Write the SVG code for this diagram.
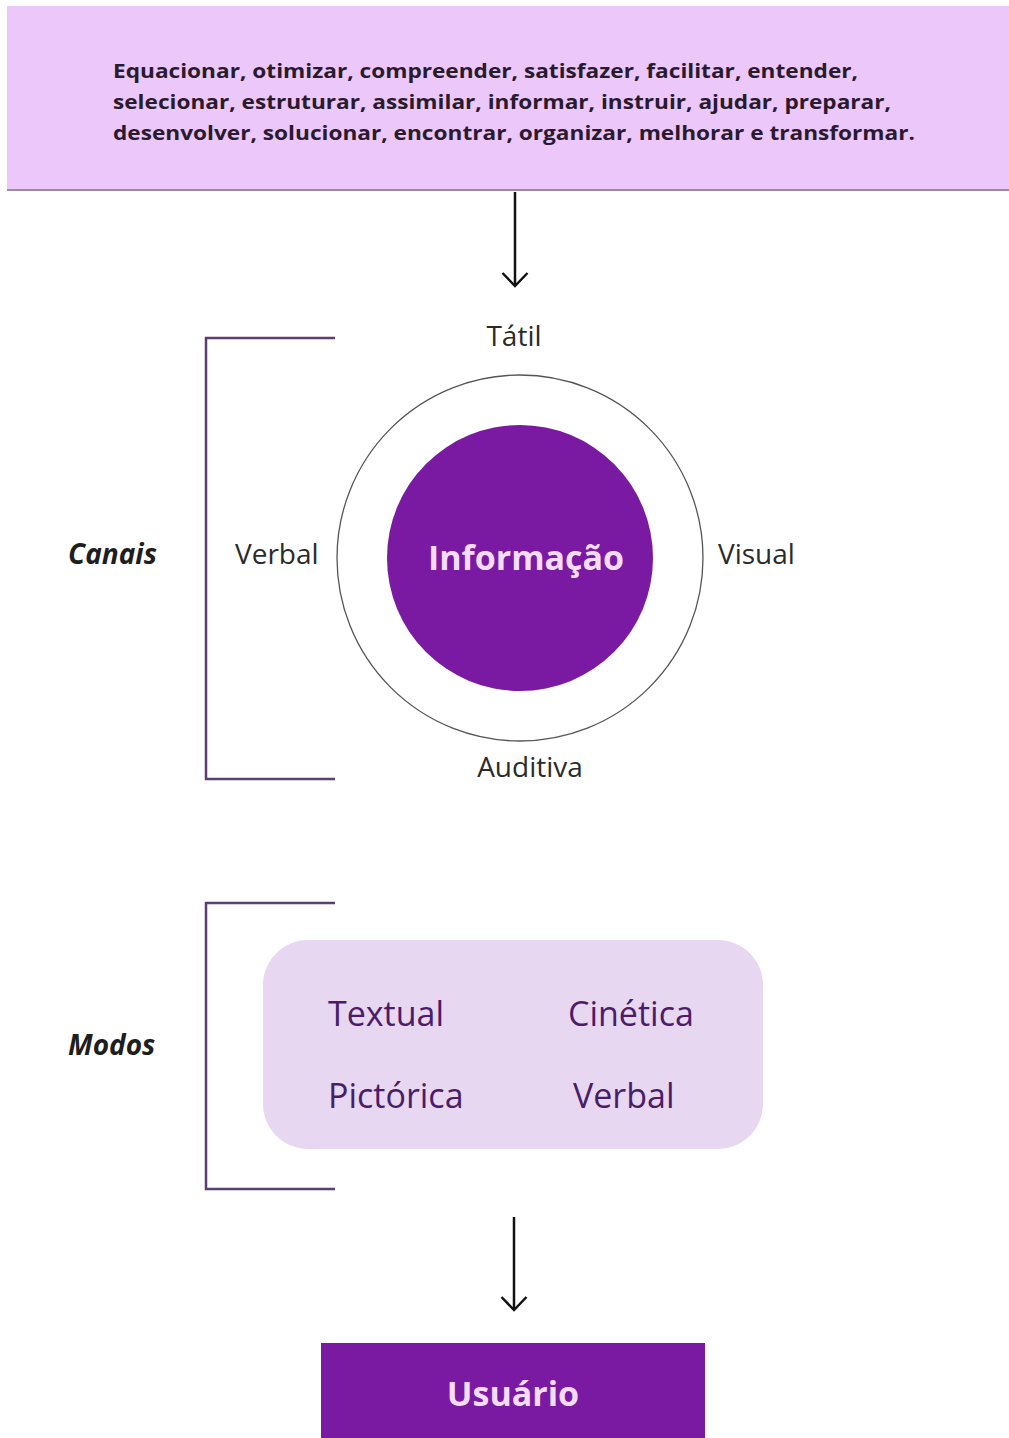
<svg xmlns="http://www.w3.org/2000/svg" width="1009" height="1438" viewBox="0 0 1009 1438">
<style>
.lbl{font-family:"Open Sans","Noto Sans",sans-serif;fill:#2b2b2b;font-size:28px}
.side{font-family:"Open Sans","Noto Sans",sans-serif;font-weight:bold;font-style:italic;fill:#1e1e1e;font-size:28px}
.mode{font-family:"Open Sans","Noto Sans",sans-serif;fill:#4a1c6a;font-size:34px}
.top{font-family:"Open Sans","Noto Sans",sans-serif;font-weight:bold;fill:#2a1a2e;font-size:19px}
.white{font-family:"Open Sans","Noto Sans",sans-serif;font-weight:bold;fill:#f6dcfb;font-size:34px}
.brk{fill:none;stroke:#5b3f72;stroke-width:2.5}
.arr{fill:none;stroke:#111;stroke-width:2.5}
</style>
<defs>
<marker id="ah" viewBox="0 0 17 28" refX="15" refY="14" markerWidth="17" markerHeight="28" markerUnits="userSpaceOnUse" orient="auto">
<path d="M2,1.5 L15,14 L2,26.5" fill="none" stroke="#111" stroke-width="2.5"/>
</marker>
</defs>
<rect width="1009" height="1438" fill="#ffffff"/>
<g id="top-box">
<rect x="7" y="6" width="1002" height="184" fill="#ebc7fa"/>
<line x1="7" y1="190" x2="1009" y2="190" stroke="#9c8aa4" stroke-width="2"/>
<text class="top" x="113" y="78" textLength="745" lengthAdjust="spacingAndGlyphs">Equacionar, otimizar, compreender, satisfazer, facilitar, entender,</text>
<text class="top" x="113" y="109" textLength="778" lengthAdjust="spacingAndGlyphs">selecionar, estruturar, assimilar, informar, instruir, ajudar, preparar,</text>
<text class="top" x="113" y="140" textLength="802" lengthAdjust="spacingAndGlyphs">desenvolver, solucionar, encontrar, organizar, melhorar e transformar.</text>
</g>
<g id="connectors">
<line class="arr" x1="515" y1="192" x2="515" y2="286" marker-end="url(#ah)"/>
<line class="arr" x1="514" y1="1217" x2="514" y2="1310" marker-end="url(#ah)"/>
</g>
<g id="canais">
<path class="brk" d="M335,338 H206 V779 H335"/>
<text class="side" x="68" y="564">Canais</text>
</g>
<g id="informacao">
<circle cx="520" cy="558" r="183" fill="none" stroke="#555" stroke-width="1.3"/>
<circle cx="520" cy="558" r="133" fill="#7a1aa3"/>
<text class="white" x="526" y="570" text-anchor="middle">Informação</text>
</g>
<g id="labels-canais">
<text class="lbl" x="514" y="346" text-anchor="middle">Tátil</text>
<text class="lbl" x="235" y="564">Verbal</text>
<text class="lbl" x="718" y="564">Visual</text>
<text class="lbl" x="530" y="777" text-anchor="middle">Auditiva</text>
</g>
<g id="modos">
<path class="brk" d="M335,903 H206 V1189 H335"/>
<text class="side" x="68" y="1055">Modos</text>
</g>
<g id="modos-box">
<rect x="263" y="940" width="500" height="209" rx="45" fill="#e8d7f0"/>
<text class="mode" x="328" y="1026">Textual</text>
<text class="mode" x="568" y="1026">Cinética</text>
<text class="mode" x="328" y="1108">Pictórica</text>
<text class="mode" x="573" y="1108">Verbal</text>
</g>
<g id="usuario">
<rect x="321" y="1343" width="384" height="100" fill="#7a1aa3"/>
<text class="white" x="513" y="1406" text-anchor="middle">Usuário</text>
</g>
</svg>
